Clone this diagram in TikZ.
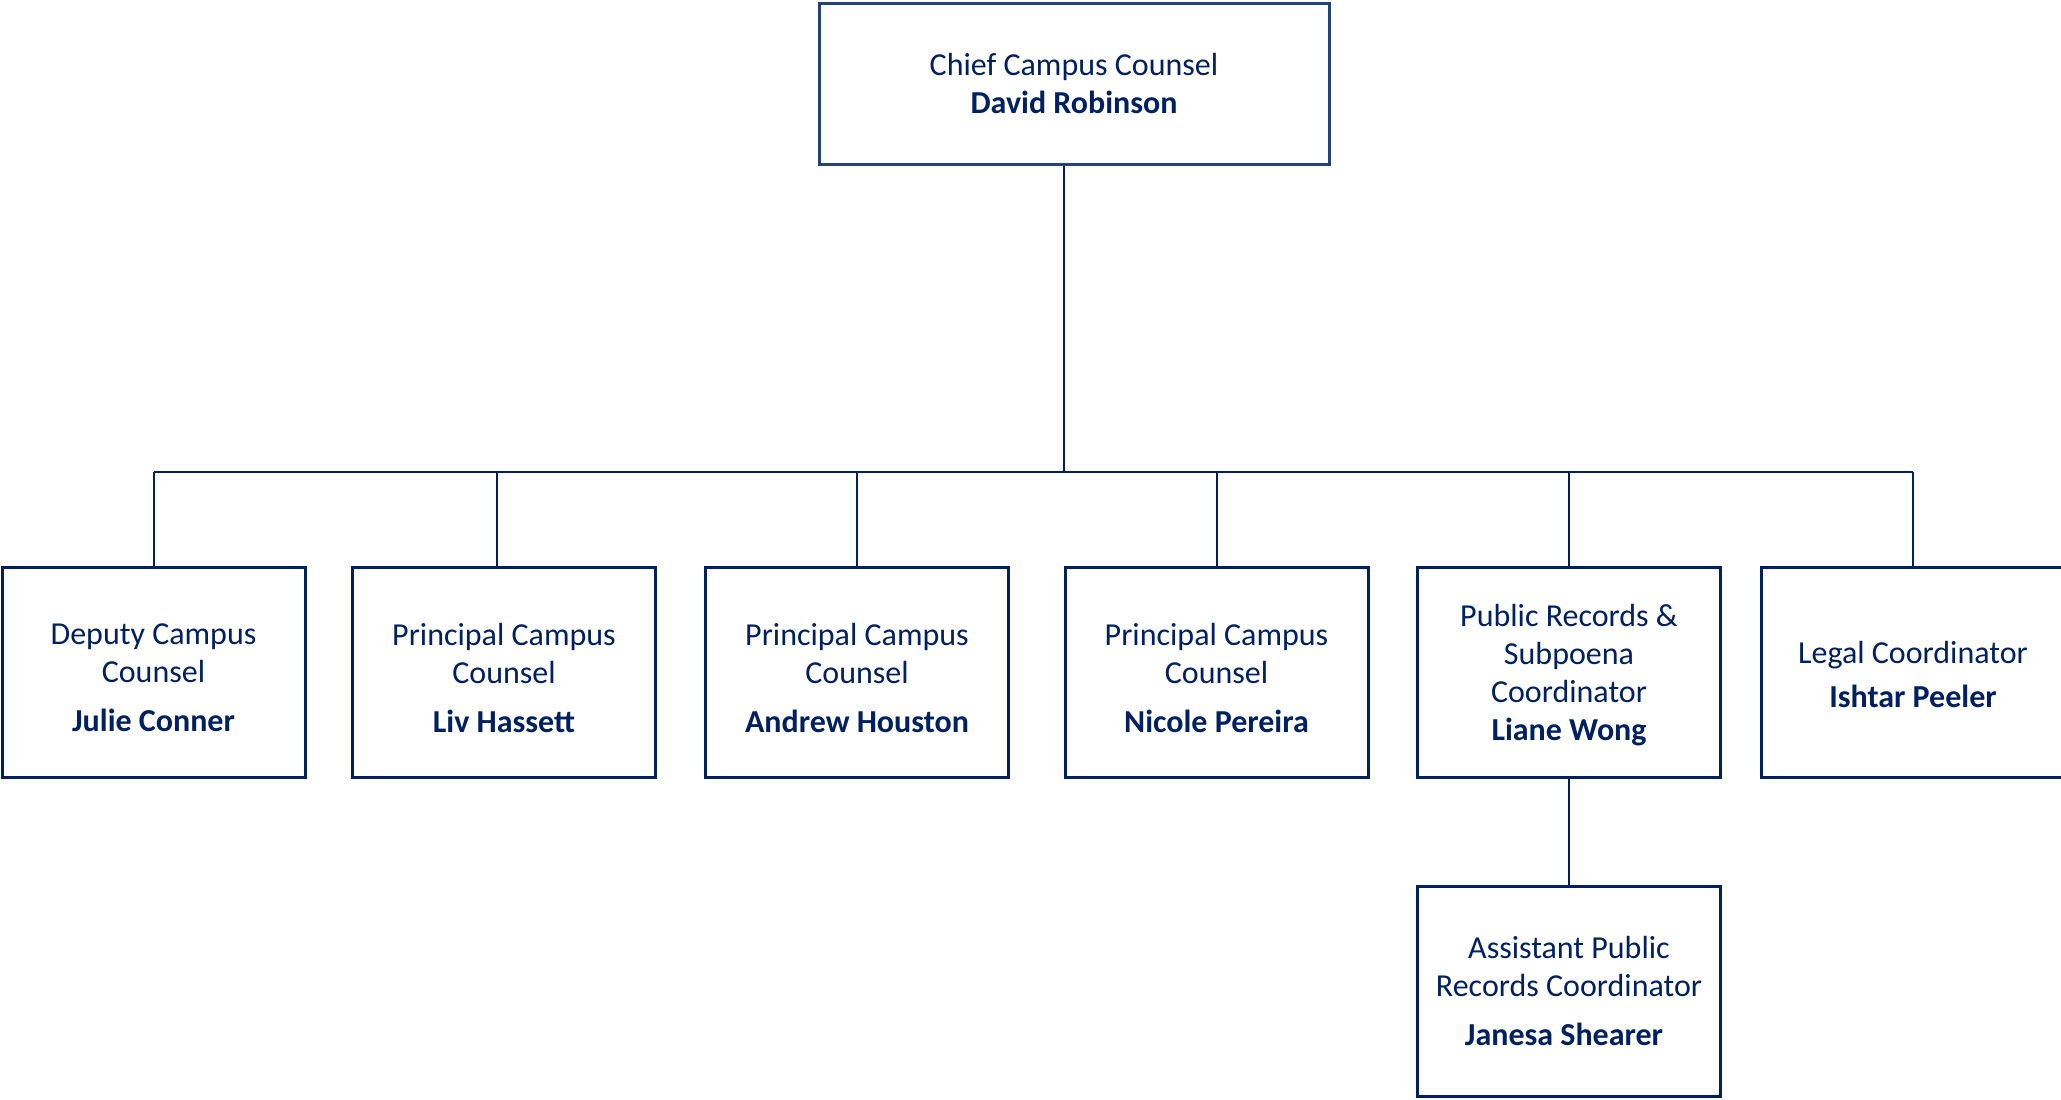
\documentclass[tikz,border=0pt]{standalone}
\usepackage{fontspec}
\setmainfont{Carlito}
\definecolor{navy}{RGB}{0,32,96}
\begin{document}
\begin{tikzpicture}[x=1pt,y=-1pt,
  box/.style={draw=navy,line width=3pt,fill=white,inner sep=0pt,
    minimum width=303pt,minimum height=210pt},
  txt/.style={align=center,text=navy,inner sep=0pt,font=\fontsize{32}{38}\selectfont},
  link/.style={draw=navy,line width=2pt}]
\useasboundingbox (0,0) rectangle (2061,1100);
\node[box,minimum width=510pt,minimum height=161pt,draw=navy!85] (top) at (1074,83.5) {};
\node[box] (b1) at (153.5,672.5) {};
\node[box] (b2) at (504,672.5) {};
\node[box] (b3) at (857,672.5) {};
\node[box] (b4) at (1216.5,672.5) {};
\node[box] (b5) at (1569,672.5) {};
\node[box] (b6) at (1913,672.5) {};
\node[box] (b7) at (1569,991) {};
\node[txt] (t0) at ([yshift=0pt]top.center) {Chief Campus Counsel\\\textbf{David Robinson}};
\node[txt] (t1) at ([yshift=-5pt]b1.center) {Deputy Campus\\Counsel\\[11pt]\textbf{Julie Conner}};
\node[txt] (t2) at ([yshift=-5pt]b2.center) {Principal Campus\\Counsel\\[11pt]\textbf{Liv Hassett}};
\node[txt] (t3) at ([yshift=-5pt]b3.center) {Principal Campus\\Counsel\\[11pt]\textbf{Andrew Houston}};
\node[txt] (t4) at ([yshift=-5pt]b4.center) {Principal Campus\\Counsel\\[11pt]\textbf{Nicole Pereira}};
\node[txt] (t5) at ([yshift=-3pt]b5.center) {Public Records \&\\Subpoena\\Coordinator\\\textbf{Liane Wong}};
\node[txt] (t6) at ([yshift=-2pt]b6.center) {Legal Coordinator\\[6pt]\textbf{Ishtar Peeler}};
\node[txt] (t7) at ([yshift=0pt]b7.center) {Assistant Public\\Records Coordinator\\[11pt]\textbf{Janesa Shearer}\rule{10pt}{0pt}};
\coordinate (bus) at (1064,471.5);
\coordinate (c2) at (497,568);
\draw[link] (bus |- top.south) -- (bus);
\draw[link] (b1.north |- bus) -- (b6.north |- bus);
\foreach \n in {b1,b3,b4,b5,b6} \draw[link] (\n.north |- bus) -- (\n.north);
\draw[link] (c2 |- bus) -- (c2);
\draw[link] (b5.south) -- (b7.north);
\end{tikzpicture}
\end{document}
